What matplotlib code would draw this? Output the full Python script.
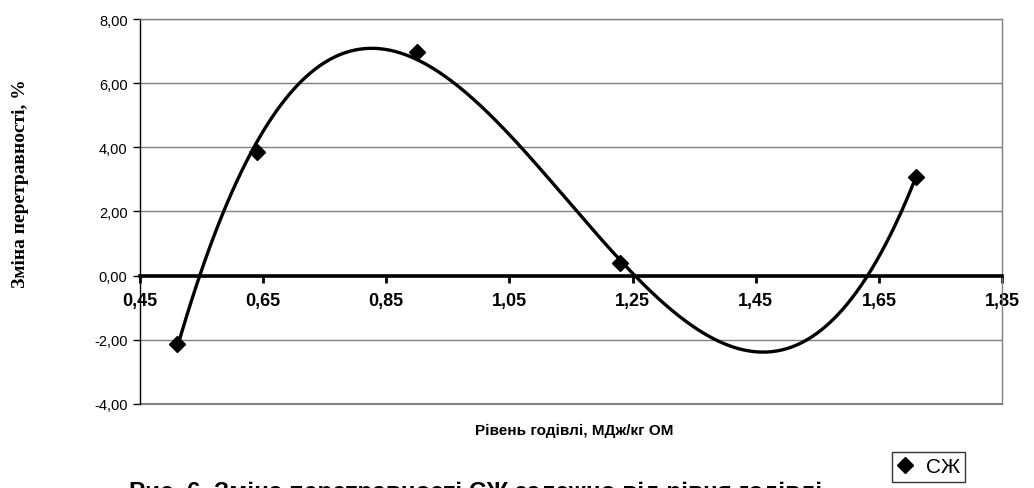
import numpy as np
import matplotlib
matplotlib.use("Agg")
import matplotlib.pyplot as plt
from matplotlib.lines import Line2D

# feeding level (MJ/kg OM) and change in digestibility (%)
feed_level = [0.51, 0.64, 0.90, 1.23, 1.71]
digest_change = [-2.12, 3.86, 6.98, 0.38, 3.08]
series_name = "СЖ"

x_ticks = [0.45, 0.65, 0.85, 1.05, 1.25, 1.45, 1.65, 1.85]
y_ticks = [-4, -2, 0, 2, 4, 6, 8]

SANS = ["Liberation Sans", "DejaVu Sans"]
SERIF = ["Liberation Serif", "DejaVu Serif"]
GRID = "#808080"

fig = plt.figure(figsize=(10.34, 4.89), dpi=100)
ax = fig.add_axes([0.1354, 0.1718, 0.8337, 0.7873])

# x axis sits at y = 0 (set before tick labels: set_position resets ticks)
ax.spines["bottom"].set_position(("data", 0))
ax.spines["bottom"].set_linewidth(2.6)
ax.spines["bottom"].set_color("black")
ax.spines["left"].set_color("black")
ax.spines["left"].set_linewidth(1)
for s in ("top", "right"):
    ax.spines[s].set_color(GRID)
    ax.spines[s].set_linewidth(1)

# cubic polynomial trend line, as in the spreadsheet original
coef = np.polyfit(feed_level, digest_change, 3)
xs = np.linspace(min(feed_level), max(feed_level), 300)
ax.plot(xs, np.polyval(coef, xs), color="black", lw=2.4, zorder=3)
ax.plot(feed_level, digest_change, linestyle="none", marker="D", ms=8,
        color="black", zorder=4)

ax.set_xlim(0.45, 1.85)
ax.set_ylim(-4, 8)
ax.set_xticks(x_ticks)
ax.set_yticks(y_ticks)
ax.set_xticklabels([f"{v:.2f}".replace(".", ",") for v in x_ticks],
                   fontweight="bold", fontsize=13, family=SANS)
ax.set_yticklabels([f"{v:.2f}".replace(".", ",") for v in y_ticks],
                   fontsize=10.5, family=SANS)
ax.tick_params(axis="x", direction="out", length=5, width=2, pad=7)
ax.tick_params(axis="y", direction="out", length=5, width=1, pad=4)

ax.grid(axis="y", color=GRID, lw=1)
ax.axhline(-4, color=GRID, lw=1.5, clip_on=False)
ax.set_axisbelow(True)

fig.text(0.02, 0.624, "Зміна перетравності, %", rotation=90, ha="center",
         va="center", fontsize=14, fontweight="bold", family=SERIF)
fig.text(0.555, 0.118, "Рівень годівлі, МДж/кг ОМ", ha="center", va="center",
         fontsize=11, fontweight="bold", family=SANS)
fig.text(0.46, 0.0164, "Рис. 6. Зміна перетравності СЖ залежно від рівня годівлі",
         ha="center", va="top", fontsize=17.5, fontweight="bold", family=SANS)

h = Line2D([], [], linestyle="none", marker="D", ms=8, color="black")
leg = fig.legend([h], [series_name], loc="center",
                 bbox_to_anchor=(0.898, 0.043), frameon=True, fancybox=False,
                 edgecolor="black", handlelength=0.8, handletextpad=0.6,
                 borderpad=0.25, borderaxespad=0, prop={"family": SANS, "size": 15})
leg.get_frame().set_linewidth(1)

fig.savefig("out.png", dpi=100)
